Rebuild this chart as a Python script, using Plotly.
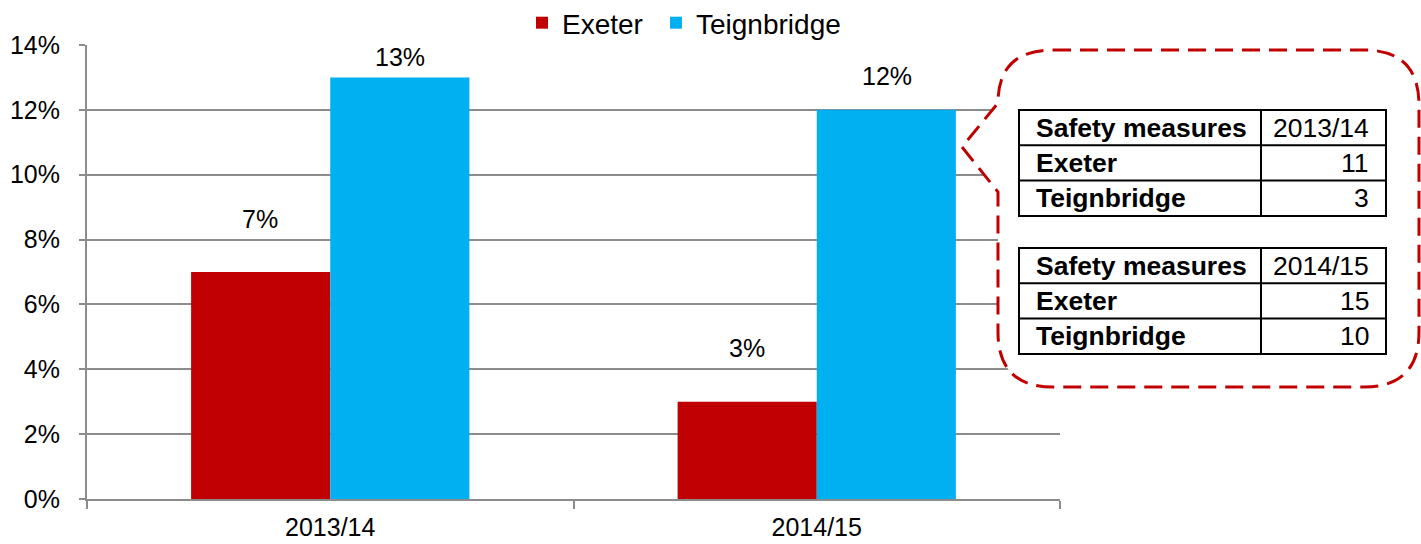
import plotly.graph_objects as go

# ---- data ----
years = ["2013/14", "2014/15"]
exeter_pct = [0.07, 0.03]
teign_pct = [0.13, 0.12]

# safety measures counts shown in the side tables
table_years = ["2013/14", "2014/15"]
safety_exeter = [11, 15]
safety_teign = [3, 10]

W, H = 1421, 544
RED = "#C00000"
BLUE = "#00B0F0"
GRID = "#8C8C8C"
FONT = "Liberation Sans, Arial, sans-serif"


def px(x):
    return x / W


def py(y):
    return 1 - y / H


fig = go.Figure()
fig.add_trace(go.Bar(name="Exeter", x=years, y=exeter_pct, marker_color=RED,
                     marker_line_width=0, legend="legend"))
fig.add_trace(go.Bar(name="Teignbridge", x=years, y=teign_pct, marker_color=BLUE,
                     marker_line_width=0, legend="legend2"))

# value labels above each bar (offset above the bar top, in pixels)
label_lift = {"Exeter": [53, 54], "Teignbridge": [20, 34]}
bar_shift = {"Exeter": -70, "Teignbridge": 70}
annotations = []
for name, vals in (("Exeter", exeter_pct), ("Teignbridge", teign_pct)):
    for i, (cat, v) in enumerate(zip(years, vals)):
        annotations.append(dict(
            x=cat, y=v, xref="x", yref="y", text=f"{v * 100:.0f}%",
            showarrow=False, xanchor="center", yanchor="middle",
            xshift=bar_shift[name], yshift=label_lift[name][i],
            font=dict(family=FONT, size=25, color="#000000")))

# ---- callout box with pointer ----
r = 55
L, R, T, B = 998, 1419, 50, 387
tip = (962, 147)
pts = [
    ("M", (L + r, T)), ("L", (R - r, T)), ("Q", (R, T), (R, T + r)),
    ("L", (R, B - r)), ("Q", (R, B), (R - r, B)), ("L", (L + r, B)),
    ("Q", (L, B), (L, B - r)), ("L", (L, 192)), ("L", tip), ("L", (L, 103)),
    ("Q", (L, T), (L + r, T)),
]
path = ""
for seg in pts:
    cmd = seg[0]
    coords = " ".join(f"{px(p[0]):.5f},{py(p[1]):.5f}" for p in seg[1:])
    path += f"{cmd} {coords} "
path += "Z"

shapes = [dict(type="path", path=path, xref="paper", yref="paper",
               line=dict(color=RED, width=3, dash="18px,9px"),
               fillcolor="white", layer="above")]

# ---- the two small tables ----
tx0, tx1, tdiv = 1019, 1386, 1261
table_tops = [110, 248]
row_h = 35.3
for k in range(2):
    top = table_tops[k]
    rows = [("Safety measures", table_years[k]),
            ("Exeter", str(safety_exeter[k])),
            ("Teignbridge", str(safety_teign[k]))]
    bottom = top + 3 * row_h
    shapes.append(dict(type="rect", xref="paper", yref="paper",
                       x0=px(tx0), x1=px(tx1), y0=py(bottom), y1=py(top),
                       line=dict(color="black", width=2), fillcolor="white",
                       layer="above"))
    shapes.append(dict(type="line", xref="paper", yref="paper",
                       x0=px(tdiv), x1=px(tdiv), y0=py(bottom), y1=py(top),
                       line=dict(color="black", width=2), layer="above"))
    for j in (1, 2):
        yy = top + j * row_h
        shapes.append(dict(type="line", xref="paper", yref="paper",
                           x0=px(tx0), x1=px(tx1), y0=py(yy), y1=py(yy),
                           line=dict(color="black", width=2), layer="above"))
    for j, (lab, val) in enumerate(rows):
        yc = top + (j + 0.5) * row_h
        annotations.append(dict(
            x=px(1034), y=py(yc), xref="paper", yref="paper", text=f"<b>{lab}</b>",
            showarrow=False, xanchor="left", yanchor="middle",
            font=dict(family=FONT, size=26.5, color="black")))
        annotations.append(dict(
            x=px(1371), y=py(yc), xref="paper", yref="paper", text=val,
            showarrow=False, xanchor="right", yanchor="middle",
            font=dict(family=FONT, size=26.5, color="black")))

legend_common = dict(orientation="h", xref="container", yref="container",
                     xanchor="left", y=py(23), yanchor="middle",
                     font=dict(family=FONT, size=28, color="black"),
                     bgcolor="rgba(0,0,0,0)", itemwidth=30)

fig.update_layout(
    width=W, height=H,
    margin=dict(l=0, r=0, t=0, b=0, autoexpand=False),
    paper_bgcolor="white", plot_bgcolor="white",
    barmode="group", bargap=0.428, bargroupgap=0,
    font=dict(family=FONT, size=25, color="black"),
    showlegend=True,
    legend=dict(x=px(522), **legend_common),
    legend2=dict(x=px(656), **legend_common),
    xaxis=dict(domain=[px(87), px(1060)], type="category", automargin=False,
               showline=True, linecolor=GRID, linewidth=2,
               ticks="outside", tickson="boundaries", ticklen=8, tickcolor=GRID,
               tickwidth=2, showgrid=False, ticklabelstandoff=5,
               tickfont=dict(family=FONT, size=25, color="black")),
    yaxis=dict(domain=[py(499), py(45)], range=[0, 0.14], dtick=0.02,
               automargin=False,
               tickformat=".0%", showline=True, linecolor=GRID, linewidth=2,
               ticks="outside", ticklen=6, tickcolor=GRID, tickwidth=2,
               showgrid=True, gridcolor=GRID, gridwidth=2, zeroline=False,
               ticklabelstandoff=14,
               tickfont=dict(family=FONT, size=25, color="black")),
    shapes=shapes,
    annotations=annotations,
)

fig.write_html("out.html")
